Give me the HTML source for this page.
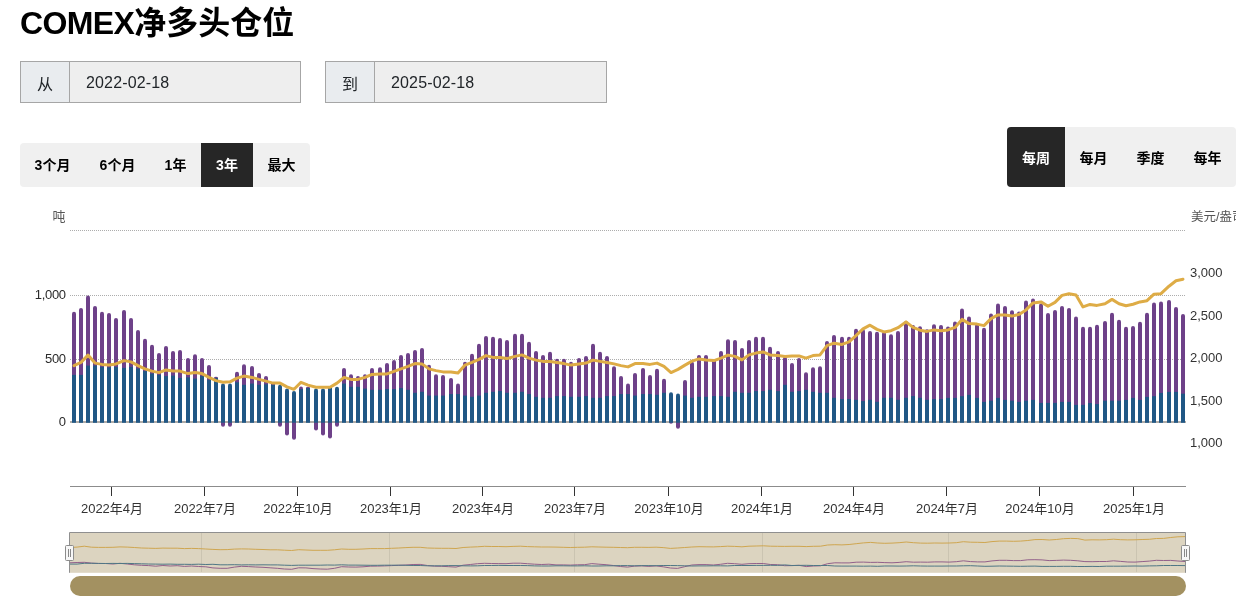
<!DOCTYPE html>
<html lang="zh"><head><meta charset="utf-8"><title>COMEX净多头仓位</title>
<style>
html,body{margin:0;padding:0;background:#fff;}
body{width:1258px;height:611px;position:relative;overflow:hidden;font-family:"Liberation Sans","Noto Sans CJK SC",sans-serif;color:#000;}
h1{position:absolute;left:20px;top:0.6px;margin:0;font-size:32px;line-height:44px;font-weight:bold;white-space:nowrap;letter-spacing:-0.6px}
h1 span{letter-spacing:0}
.inp{position:absolute;top:61px;height:42px;width:281px;box-sizing:border-box;border:1px solid #a6a6a6;background:#eee;display:flex;font-size:16px;color:#212529;letter-spacing:0.15px}
.inp .pre{width:49px;flex:none;background:#e9ecef;border-right:1px solid #a6a6a6;display:flex;align-items:center;justify-content:center;font-size:16px;padding-top:1px;box-sizing:border-box}
.inp .val{padding-left:16px;display:flex;align-items:center;padding-top:1.5px}
.grp{position:absolute;background:#f0f0f0;border-radius:4px;display:flex;overflow:hidden;font-weight:bold;font-size:14px}
.grp div{display:flex;align-items:center;justify-content:center;padding-bottom:2px;box-sizing:border-box}
.g2 div{padding-bottom:0.5px}
.grp .on{background:#262626;color:#fff}
</style></head><body>
<h1>COMEX<span>净多头仓位</span></h1>
<div class="inp" style="left:20px"><div class="pre">从</div><div class="val">2022-02-18</div></div>
<div class="inp" style="left:325px;width:282px"><div class="pre">到</div><div class="val">2025-02-18</div></div>
<div class="grp" style="left:20px;top:143px;height:44px;width:290px">
<div style="width:65px">3个月</div><div style="width:65px">6个月</div><div style="width:51px">1年</div><div class="on" style="width:52px">3年</div><div style="width:57px">最大</div></div>
<div class="grp g2" style="left:1007px;top:127px;height:60px;width:229px">
<div class="on" style="width:58px">每周</div><div style="width:57px">每月</div><div style="width:57px">季度</div><div style="width:57px">每年</div></div>
<svg width="1258" height="611" viewBox="0 0 1258 611" style="position:absolute;left:0;top:0" font-family="'Liberation Sans', 'Noto Sans CJK SC', sans-serif"><line x1="70" x2="1186" y1="230.5" y2="230.5" stroke="#999" stroke-width="1" stroke-dasharray="1 1" opacity="0.8"/><line x1="70" x2="1186" y1="295.5" y2="295.5" stroke="#999" stroke-width="1" stroke-dasharray="1 1" opacity="0.8"/><line x1="70" x2="1186" y1="359.5" y2="359.5" stroke="#999" stroke-width="1" stroke-dasharray="1 1" opacity="0.8"/><rect x="70" y="421" width="1116" height="2" fill="#b0aca8"/><g fill="#6e4189"><path d="M72 375.9V313.8a2 2.0 0 0 1 4 0V375.9z"/><path d="M79 375.9V310.0a2 2.0 0 0 1 4 0V375.9z"/><path d="M86 366.6V297.5a2 2.0 0 0 1 4 0V366.6z"/><path d="M93 366.6V308.0a2 2.0 0 0 1 4 0V366.6z"/><path d="M100 367.9V313.8a2 2.0 0 0 1 4 0V367.9z"/><path d="M107 368.4V315.0a2 2.0 0 0 1 4 0V368.4z"/><path d="M114 367.9V320.0a2 2.0 0 0 1 4 0V367.9z"/><path d="M122 368.9V312.0a2 2.0 0 0 1 4 0V368.9z"/><path d="M129 367.9V320.0a2 2.0 0 0 1 4 0V367.9z"/><path d="M136 369.6V332.0a2 2.0 0 0 1 4 0V369.6z"/><path d="M143 372.1V340.7a2 2.0 0 0 1 4 0V372.1z"/><path d="M150 374.6V346.7a2 2.0 0 0 1 4 0V374.6z"/><path d="M157 375.9V354.9a2 2.0 0 0 1 4 0V375.9z"/><path d="M164 377.1V348.0a2 2.0 0 0 1 4 0V377.1z"/><path d="M171 376.6V352.9a2 2.0 0 0 1 4 0V376.6z"/><path d="M178 378.9V352.0a2 2.0 0 0 1 4 0V378.9z"/><path d="M186 378.4V359.9a2 2.0 0 0 1 4 0V378.4z"/><path d="M193 379.6V356.2a2 2.0 0 0 1 4 0V379.6z"/><path d="M200 377.1V359.9a2 2.0 0 0 1 4 0V377.1z"/><path d="M207 380.9V366.9a2 2.0 0 0 1 4 0V380.9z"/><path d="M214 378.9V377.9a2 1.2 0 0 1 4 0V378.9z"/><path d="M221 421.8V424.8a2 2 0 0 0 4 0V421.8z"/><path d="M228 421.8V424.8a2 2 0 0 0 4 0V421.8z"/><path d="M235 383.3V373.7a2 2.0 0 0 1 4 0V383.3z"/><path d="M242 385.8V366.2a2 2.0 0 0 1 4 0V385.8z"/><path d="M250 384.6V367.9a2 2.0 0 0 1 4 0V384.6z"/><path d="M257 385.8V374.9a2 2.0 0 0 1 4 0V385.8z"/><path d="M264 385.3V377.9a2 2.0 0 0 1 4 0V385.3z"/><path d="M271 385.8V384.1a2 2.0 0 0 1 4 0V385.8z"/><path d="M278 421.8V424.8a2 2 0 0 0 4 0V421.8z"/><path d="M285 421.8V433.6a2 2 0 0 0 4 0V421.8z"/><path d="M292 421.8V437.8a2 2 0 0 0 4 0V421.8z"/><path d="M299 390.1V388.6a2 2.0 0 0 1 4 0V390.1z"/><path d="M306 389.1V388.1a2 1.4 0 0 1 4 0V389.1z"/><path d="M314 421.8V428.6a2 2 0 0 0 4 0V421.8z"/><path d="M321 421.8V433.6a2 2 0 0 0 4 0V421.8z"/><path d="M328 421.8V436.6a2 2 0 0 0 4 0V421.8z"/><path d="M335 421.8V424.8a2 2 0 0 0 4 0V421.8z"/><path d="M342 384.6V369.9a2 2.0 0 0 1 4 0V384.6z"/><path d="M349 387.8V376.2a2 2.0 0 0 1 4 0V387.8z"/><path d="M356 387.8V377.9a2 2.0 0 0 1 4 0V387.8z"/><path d="M363 389.6V376.2a2 2.0 0 0 1 4 0V389.6z"/><path d="M370 390.8V369.9a2 2.0 0 0 1 4 0V390.8z"/><path d="M378 390.8V369.2a2 2.0 0 0 1 4 0V390.8z"/><path d="M385 390.1V364.9a2 2.0 0 0 1 4 0V390.1z"/><path d="M392 390.1V361.9a2 2.0 0 0 1 4 0V390.1z"/><path d="M399 389.1V356.9a2 2.0 0 0 1 4 0V389.1z"/><path d="M406 390.8V354.9a2 2.0 0 0 1 4 0V390.8z"/><path d="M413 393.8V352.0a2 2.0 0 0 1 4 0V393.8z"/><path d="M420 392.8V350.0a2 2.0 0 0 1 4 0V392.8z"/><path d="M427 396.6V366.7a2 2.0 0 0 1 4 0V396.6z"/><path d="M434 396.6V376.2a2 2.0 0 0 1 4 0V396.6z"/><path d="M441 396.6V376.9a2 2.0 0 0 1 4 0V396.6z"/><path d="M449 395.1V379.9a2 2.0 0 0 1 4 0V395.1z"/><path d="M456 395.1V385.6a2 2.0 0 0 1 4 0V395.1z"/><path d="M463 396.6V363.7a2 2.0 0 0 1 4 0V396.6z"/><path d="M470 397.8V355.7a2 2.0 0 0 1 4 0V397.8z"/><path d="M477 396.6V345.7a2 2.0 0 0 1 4 0V396.6z"/><path d="M484 393.8V338.0a2 2.0 0 0 1 4 0V393.8z"/><path d="M491 392.8V338.7a2 2.0 0 0 1 4 0V392.8z"/><path d="M498 392.1V340.0a2 2.0 0 0 1 4 0V392.1z"/><path d="M505 393.8V342.0a2 2.0 0 0 1 4 0V393.8z"/><path d="M513 393.8V335.7a2 2.0 0 0 1 4 0V393.8z"/><path d="M520 392.8V335.7a2 2.0 0 0 1 4 0V392.8z"/><path d="M527 395.1V343.7a2 2.0 0 0 1 4 0V395.1z"/><path d="M534 397.8V352.9a2 2.0 0 0 1 4 0V397.8z"/><path d="M541 398.8V356.9a2 2.0 0 0 1 4 0V398.8z"/><path d="M548 398.8V353.7a2 2.0 0 0 1 4 0V398.8z"/><path d="M555 397.1V360.7a2 2.0 0 0 1 4 0V397.1z"/><path d="M562 397.1V360.7a2 2.0 0 0 1 4 0V397.1z"/><path d="M569 397.8V363.7a2 2.0 0 0 1 4 0V397.8z"/><path d="M577 397.8V359.9a2 2.0 0 0 1 4 0V397.8z"/><path d="M584 397.1V357.9a2 2.0 0 0 1 4 0V397.1z"/><path d="M591 398.8V345.7a2 2.0 0 0 1 4 0V398.8z"/><path d="M598 398.8V353.7a2 2.0 0 0 1 4 0V398.8z"/><path d="M605 397.1V357.9a2 2.0 0 0 1 4 0V397.1z"/><path d="M612 397.1V368.2a2 2.0 0 0 1 4 0V397.1z"/><path d="M619 395.1V377.9a2 2.0 0 0 1 4 0V395.1z"/><path d="M626 395.1V385.6a2 2.0 0 0 1 4 0V395.1z"/><path d="M633 396.6V374.9a2 2.0 0 0 1 4 0V396.6z"/><path d="M641 395.1V369.9a2 2.0 0 0 1 4 0V395.1z"/><path d="M648 395.1V376.9a2 2.0 0 0 1 4 0V395.1z"/><path d="M655 395.8V370.7a2 2.0 0 0 1 4 0V395.8z"/><path d="M662 393.8V380.7a2 2.0 0 0 1 4 0V393.8z"/><path d="M669 421.8V421.8a2 2 0 0 0 4 0V421.8z"/><path d="M676 421.8V426.8a2 2 0 0 0 4 0V421.8z"/><path d="M683 396.6V381.9a2 2.0 0 0 1 4 0V396.6z"/><path d="M690 398.8V363.7a2 2.0 0 0 1 4 0V398.8z"/><path d="M697 397.8V356.9a2 2.0 0 0 1 4 0V397.8z"/><path d="M704 397.8V356.9a2 2.0 0 0 1 4 0V397.8z"/><path d="M712 397.1V361.2a2 2.0 0 0 1 4 0V397.1z"/><path d="M719 397.1V352.9a2 2.0 0 0 1 4 0V397.1z"/><path d="M726 397.8V341.2a2 2.0 0 0 1 4 0V397.8z"/><path d="M733 392.8V342.0a2 2.0 0 0 1 4 0V392.8z"/><path d="M740 393.8V350.0a2 2.0 0 0 1 4 0V393.8z"/><path d="M747 393.8V342.0a2 2.0 0 0 1 4 0V393.8z"/><path d="M754 392.1V338.7a2 2.0 0 0 1 4 0V392.1z"/><path d="M761 392.1V338.7a2 2.0 0 0 1 4 0V392.1z"/><path d="M768 390.8V348.7a2 2.0 0 0 1 4 0V390.8z"/><path d="M776 392.1V352.9a2 2.0 0 0 1 4 0V392.1z"/><path d="M783 385.8V358.7a2 2.0 0 0 1 4 0V385.8z"/><path d="M790 392.8V364.9a2 2.0 0 0 1 4 0V392.8z"/><path d="M797 392.1V359.9a2 2.0 0 0 1 4 0V392.1z"/><path d="M804 390.8V374.2a2 2.0 0 0 1 4 0V390.8z"/><path d="M811 392.8V369.2a2 2.0 0 0 1 4 0V392.8z"/><path d="M818 393.8V368.2a2 2.0 0 0 1 4 0V393.8z"/><path d="M825 393.8V343.0a2 2.0 0 0 1 4 0V393.8z"/><path d="M832 398.8V337.0a2 2.0 0 0 1 4 0V398.8z"/><path d="M840 400.1V338.7a2 2.0 0 0 1 4 0V400.1z"/><path d="M847 400.1V338.7a2 2.0 0 0 1 4 0V400.1z"/><path d="M854 400.8V330.7a2 2.0 0 0 1 4 0V400.8z"/><path d="M861 402.1V331.2a2 2.0 0 0 1 4 0V402.1z"/><path d="M868 400.8V333.0a2 2.0 0 0 1 4 0V400.8z"/><path d="M875 402.8V333.7a2 2.0 0 0 1 4 0V402.8z"/><path d="M882 398.8V333.7a2 2.0 0 0 1 4 0V398.8z"/><path d="M889 398.8V336.2a2 2.0 0 0 1 4 0V398.8z"/><path d="M896 400.8V333.0a2 2.0 0 0 1 4 0V400.8z"/><path d="M904 398.8V323.0a2 2.0 0 0 1 4 0V398.8z"/><path d="M911 397.1V327.0a2 2.0 0 0 1 4 0V397.1z"/><path d="M918 398.8V328.2a2 2.0 0 0 1 4 0V398.8z"/><path d="M925 400.8V331.2a2 2.0 0 0 1 4 0V400.8z"/><path d="M932 400.1V326.2a2 2.0 0 0 1 4 0V400.1z"/><path d="M939 400.1V327.0a2 2.0 0 0 1 4 0V400.1z"/><path d="M946 398.9V328.6a2 2.0 0 0 1 4 0V398.9z"/><path d="M953 398.9V323.6a2 2.0 0 0 1 4 0V398.9z"/><path d="M960 397.2V310.6a2 2.0 0 0 1 4 0V397.2z"/><path d="M967 395.9V318.6a2 2.0 0 0 1 4 0V395.9z"/><path d="M975 398.9V325.6a2 2.0 0 0 1 4 0V398.9z"/><path d="M982 402.9V329.8a2 2.0 0 0 1 4 0V402.9z"/><path d="M989 401.7V315.6a2 2.0 0 0 1 4 0V401.7z"/><path d="M996 398.9V305.6a2 2.0 0 0 1 4 0V398.9z"/><path d="M1003 400.9V308.1a2 2.0 0 0 1 4 0V400.9z"/><path d="M1010 401.7V312.3a2 2.0 0 0 1 4 0V401.7z"/><path d="M1017 402.9V313.6a2 2.0 0 0 1 4 0V402.9z"/><path d="M1024 401.7V302.6a2 2.0 0 0 1 4 0V401.7z"/><path d="M1031 400.9V300.6a2 2.0 0 0 1 4 0V400.9z"/><path d="M1039 403.9V305.6a2 2.0 0 0 1 4 0V403.9z"/><path d="M1046 403.9V315.1a2 2.0 0 0 1 4 0V403.9z"/><path d="M1053 403.9V311.9a2 2.0 0 0 1 4 0V403.9z"/><path d="M1060 402.9V308.1a2 2.0 0 0 1 4 0V402.9z"/><path d="M1067 402.9V309.9a2 2.0 0 0 1 4 0V402.9z"/><path d="M1074 405.9V318.6a2 2.0 0 0 1 4 0V405.9z"/><path d="M1081 405.9V328.8a2 2.0 0 0 1 4 0V405.9z"/><path d="M1088 404.1V328.8a2 2.0 0 0 1 4 0V404.1z"/><path d="M1095 405.1V326.8a2 2.0 0 0 1 4 0V405.1z"/><path d="M1103 401.7V323.1a2 2.0 0 0 1 4 0V401.7z"/><path d="M1110 401.7V314.8a2 2.0 0 0 1 4 0V401.7z"/><path d="M1117 401.7V321.8a2 2.0 0 0 1 4 0V401.7z"/><path d="M1124 400.9V328.8a2 2.0 0 0 1 4 0V400.9z"/><path d="M1131 398.9V328.1a2 2.0 0 0 1 4 0V398.9z"/><path d="M1138 400.9V323.8a2 2.0 0 0 1 4 0V400.9z"/><path d="M1145 397.9V314.8a2 2.0 0 0 1 4 0V397.9z"/><path d="M1152 397.2V304.4a2 2.0 0 0 1 4 0V397.2z"/><path d="M1159 393.9V303.6a2 2.0 0 0 1 4 0V393.9z"/><path d="M1167 392.9V301.9a2 2.0 0 0 1 4 0V392.9z"/><path d="M1174 392.9V308.9a2 2.0 0 0 1 4 0V392.9z"/><path d="M1181 394.7V316.1a2 2.0 0 0 1 4 0V394.7z"/></g><g fill="#205785"><rect x="72" y="374.9" width="4" height="47.9"/><rect x="79" y="374.9" width="4" height="47.9"/><rect x="86" y="365.6" width="4" height="57.2"/><rect x="93" y="365.6" width="4" height="57.2"/><rect x="100" y="366.9" width="4" height="55.9"/><rect x="107" y="367.4" width="4" height="55.4"/><rect x="114" y="366.9" width="4" height="55.9"/><rect x="122" y="367.9" width="4" height="54.9"/><rect x="129" y="366.9" width="4" height="55.9"/><rect x="136" y="368.6" width="4" height="54.2"/><rect x="143" y="371.1" width="4" height="51.7"/><rect x="150" y="373.6" width="4" height="49.2"/><rect x="157" y="374.9" width="4" height="47.9"/><rect x="164" y="376.1" width="4" height="46.7"/><rect x="171" y="375.6" width="4" height="47.2"/><rect x="178" y="377.9" width="4" height="44.9"/><rect x="186" y="377.4" width="4" height="45.4"/><rect x="193" y="378.6" width="4" height="44.2"/><rect x="200" y="376.1" width="4" height="46.7"/><rect x="207" y="379.9" width="4" height="42.9"/><rect x="214" y="377.9" width="4" height="44.9"/><path d="M221 422.8V385.6a2 2 0 0 1 4 0V422.8z"/><path d="M228 422.8V385.6a2 2 0 0 1 4 0V422.8z"/><rect x="235" y="382.3" width="4" height="40.5"/><rect x="242" y="384.8" width="4" height="38.0"/><rect x="250" y="383.6" width="4" height="39.2"/><rect x="257" y="384.8" width="4" height="38.0"/><rect x="264" y="384.3" width="4" height="38.5"/><rect x="271" y="384.8" width="4" height="38.0"/><path d="M278 422.8V386.8a2 2 0 0 1 4 0V422.8z"/><path d="M285 422.8V390.6a2 2 0 0 1 4 0V422.8z"/><path d="M292 422.8V393.1a2 2 0 0 1 4 0V422.8z"/><rect x="299" y="389.1" width="4" height="33.7"/><rect x="306" y="388.1" width="4" height="34.7"/><path d="M314 422.8V390.6a2 2 0 0 1 4 0V422.8z"/><path d="M321 422.8V390.6a2 2 0 0 1 4 0V422.8z"/><path d="M328 422.8V388.1a2 2 0 0 1 4 0V422.8z"/><path d="M335 422.8V388.8a2 2 0 0 1 4 0V422.8z"/><rect x="342" y="383.6" width="4" height="39.2"/><rect x="349" y="386.8" width="4" height="36.0"/><rect x="356" y="386.8" width="4" height="36.0"/><rect x="363" y="388.6" width="4" height="34.2"/><rect x="370" y="389.8" width="4" height="33.0"/><rect x="378" y="389.8" width="4" height="33.0"/><rect x="385" y="389.1" width="4" height="33.7"/><rect x="392" y="389.1" width="4" height="33.7"/><rect x="399" y="388.1" width="4" height="34.7"/><rect x="406" y="389.8" width="4" height="33.0"/><rect x="413" y="392.8" width="4" height="30.0"/><rect x="420" y="391.8" width="4" height="31.0"/><rect x="427" y="395.6" width="4" height="27.2"/><rect x="434" y="395.6" width="4" height="27.2"/><rect x="441" y="395.6" width="4" height="27.2"/><rect x="449" y="394.1" width="4" height="28.7"/><rect x="456" y="394.1" width="4" height="28.7"/><rect x="463" y="395.6" width="4" height="27.2"/><rect x="470" y="396.8" width="4" height="26.0"/><rect x="477" y="395.6" width="4" height="27.2"/><rect x="484" y="392.8" width="4" height="30.0"/><rect x="491" y="391.8" width="4" height="31.0"/><rect x="498" y="391.1" width="4" height="31.7"/><rect x="505" y="392.8" width="4" height="30.0"/><rect x="513" y="392.8" width="4" height="30.0"/><rect x="520" y="391.8" width="4" height="31.0"/><rect x="527" y="394.1" width="4" height="28.7"/><rect x="534" y="396.8" width="4" height="26.0"/><rect x="541" y="397.8" width="4" height="25.0"/><rect x="548" y="397.8" width="4" height="25.0"/><rect x="555" y="396.1" width="4" height="26.7"/><rect x="562" y="396.1" width="4" height="26.7"/><rect x="569" y="396.8" width="4" height="26.0"/><rect x="577" y="396.8" width="4" height="26.0"/><rect x="584" y="396.1" width="4" height="26.7"/><rect x="591" y="397.8" width="4" height="25.0"/><rect x="598" y="397.8" width="4" height="25.0"/><rect x="605" y="396.1" width="4" height="26.7"/><rect x="612" y="396.1" width="4" height="26.7"/><rect x="619" y="394.1" width="4" height="28.7"/><rect x="626" y="394.1" width="4" height="28.7"/><rect x="633" y="395.6" width="4" height="27.2"/><rect x="641" y="394.1" width="4" height="28.7"/><rect x="648" y="394.1" width="4" height="28.7"/><rect x="655" y="394.8" width="4" height="28.0"/><rect x="662" y="392.8" width="4" height="30.0"/><path d="M669 422.8V394.3a2 2 0 0 1 4 0V422.8z"/><path d="M676 422.8V395.6a2 2 0 0 1 4 0V422.8z"/><rect x="683" y="395.6" width="4" height="27.2"/><rect x="690" y="397.8" width="4" height="25.0"/><rect x="697" y="396.8" width="4" height="26.0"/><rect x="704" y="396.8" width="4" height="26.0"/><rect x="712" y="396.1" width="4" height="26.7"/><rect x="719" y="396.1" width="4" height="26.7"/><rect x="726" y="396.8" width="4" height="26.0"/><rect x="733" y="391.8" width="4" height="31.0"/><rect x="740" y="392.8" width="4" height="30.0"/><rect x="747" y="392.8" width="4" height="30.0"/><rect x="754" y="391.1" width="4" height="31.7"/><rect x="761" y="391.1" width="4" height="31.7"/><rect x="768" y="389.8" width="4" height="33.0"/><rect x="776" y="391.1" width="4" height="31.7"/><rect x="783" y="384.8" width="4" height="38.0"/><rect x="790" y="391.8" width="4" height="31.0"/><rect x="797" y="391.1" width="4" height="31.7"/><rect x="804" y="389.8" width="4" height="33.0"/><rect x="811" y="391.8" width="4" height="31.0"/><rect x="818" y="392.8" width="4" height="30.0"/><rect x="825" y="392.8" width="4" height="30.0"/><rect x="832" y="397.8" width="4" height="25.0"/><rect x="840" y="399.1" width="4" height="23.7"/><rect x="847" y="399.1" width="4" height="23.7"/><rect x="854" y="399.8" width="4" height="23.0"/><rect x="861" y="401.1" width="4" height="21.7"/><rect x="868" y="399.8" width="4" height="23.0"/><rect x="875" y="401.8" width="4" height="21.0"/><rect x="882" y="397.8" width="4" height="25.0"/><rect x="889" y="397.8" width="4" height="25.0"/><rect x="896" y="399.8" width="4" height="23.0"/><rect x="904" y="397.8" width="4" height="25.0"/><rect x="911" y="396.1" width="4" height="26.7"/><rect x="918" y="397.8" width="4" height="25.0"/><rect x="925" y="399.8" width="4" height="23.0"/><rect x="932" y="399.1" width="4" height="23.7"/><rect x="939" y="399.1" width="4" height="23.7"/><rect x="946" y="397.9" width="4" height="24.9"/><rect x="953" y="397.9" width="4" height="24.9"/><rect x="960" y="396.2" width="4" height="26.6"/><rect x="967" y="394.9" width="4" height="27.9"/><rect x="975" y="397.9" width="4" height="24.9"/><rect x="982" y="401.9" width="4" height="20.9"/><rect x="989" y="400.7" width="4" height="22.1"/><rect x="996" y="397.9" width="4" height="24.9"/><rect x="1003" y="399.9" width="4" height="22.9"/><rect x="1010" y="400.7" width="4" height="22.1"/><rect x="1017" y="401.9" width="4" height="20.9"/><rect x="1024" y="400.7" width="4" height="22.1"/><rect x="1031" y="399.9" width="4" height="22.9"/><rect x="1039" y="402.9" width="4" height="19.9"/><rect x="1046" y="402.9" width="4" height="19.9"/><rect x="1053" y="402.9" width="4" height="19.9"/><rect x="1060" y="401.9" width="4" height="20.9"/><rect x="1067" y="401.9" width="4" height="20.9"/><rect x="1074" y="404.9" width="4" height="17.9"/><rect x="1081" y="404.9" width="4" height="17.9"/><rect x="1088" y="403.1" width="4" height="19.7"/><rect x="1095" y="404.1" width="4" height="18.7"/><rect x="1103" y="400.7" width="4" height="22.1"/><rect x="1110" y="400.7" width="4" height="22.1"/><rect x="1117" y="400.7" width="4" height="22.1"/><rect x="1124" y="399.9" width="4" height="22.9"/><rect x="1131" y="397.9" width="4" height="24.9"/><rect x="1138" y="399.9" width="4" height="22.9"/><rect x="1145" y="396.9" width="4" height="25.9"/><rect x="1152" y="396.2" width="4" height="26.6"/><rect x="1159" y="392.9" width="4" height="29.9"/><rect x="1167" y="391.9" width="4" height="30.9"/><rect x="1174" y="391.9" width="4" height="30.9"/><rect x="1181" y="393.7" width="4" height="29.1"/></g><polyline points="74,365.6 81,362.4 88,355.1 95,363.1 102,364.4 109,364.9 116,363.9 124,360.6 131,361.9 138,365.6 145,368.9 152,371.1 159,372.6 166,369.9 173,371.1 180,371.1 188,373.6 195,372.4 202,373.6 209,377.4 216,380.6 223,382.3 230,381.8 237,378.1 244,376.1 252,377.4 259,379.4 266,381.1 273,383.1 280,383.1 287,386.8 294,389.3 301,382.3 308,385.1 316,387.3 323,387.3 330,387.3 337,383.1 344,377.4 351,379.4 358,379.4 365,377.4 372,374.4 380,373.9 387,373.9 394,371.4 401,368.9 408,366.4 415,363.6 422,363.9 429,368.9 436,370.6 443,371.9 451,371.9 458,373.1 465,365.1 472,362.4 479,359.4 486,355.6 493,357.4 500,357.4 507,358.6 515,356.4 522,354.9 529,358.1 536,360.1 543,361.4 550,361.4 557,362.4 564,363.6 571,365.1 579,363.9 586,363.1 593,360.1 600,361.4 607,362.6 614,363.9 621,365.6 628,366.9 635,363.6 643,363.6 650,364.4 657,363.1 664,366.4 671,372.6 678,369.4 685,365.1 692,361.1 699,358.9 706,359.9 714,360.6 721,358.1 728,355.1 735,356.4 742,359.9 749,354.9 756,353.1 763,351.9 770,354.9 778,355.6 785,356.4 792,355.9 799,355.9 806,358.1 813,355.6 820,354.9 827,345.7 834,343.2 842,344.4 849,341.9 856,335.7 863,328.9 870,325.2 877,329.4 884,331.9 891,330.7 898,327.7 906,321.9 913,327.4 920,330.2 927,331.4 934,329.9 941,330.7 948,329.9 955,327.4 962,319.4 969,323.6 977,324.1 984,325.6 991,318.6 998,314.9 1005,314.9 1012,316.1 1019,314.4 1026,309.9 1033,302.9 1041,301.9 1048,306.2 1055,302.4 1062,295.4 1069,293.7 1076,294.9 1083,306.9 1090,304.4 1097,305.4 1105,303.7 1112,299.4 1119,303.7 1126,305.7 1133,304.2 1140,301.9 1147,300.7 1154,294.2 1161,293.7 1169,286.2 1176,280.7 1183,279.2" fill="none" stroke="#deac46" stroke-width="3" stroke-linejoin="round" stroke-linecap="round"/><line x1="70" x2="1186" y1="486.5" y2="486.5" stroke="#8c8c8c" stroke-width="1"/><line x1="111.5" x2="111.5" y1="487" y2="496" stroke="#333" stroke-width="1"/><text x="112" y="513" font-size="13" fill="#333" text-anchor="middle">2022年4月</text><line x1="204.5" x2="204.5" y1="487" y2="496" stroke="#333" stroke-width="1"/><text x="205" y="513" font-size="13" fill="#333" text-anchor="middle">2022年7月</text><line x1="297.5" x2="297.5" y1="487" y2="496" stroke="#333" stroke-width="1"/><text x="298" y="513" font-size="13" fill="#333" text-anchor="middle">2022年10月</text><line x1="390.5" x2="390.5" y1="487" y2="496" stroke="#333" stroke-width="1"/><text x="391" y="513" font-size="13" fill="#333" text-anchor="middle">2023年1月</text><line x1="482.5" x2="482.5" y1="487" y2="496" stroke="#333" stroke-width="1"/><text x="483" y="513" font-size="13" fill="#333" text-anchor="middle">2023年4月</text><line x1="574.5" x2="574.5" y1="487" y2="496" stroke="#333" stroke-width="1"/><text x="575" y="513" font-size="13" fill="#333" text-anchor="middle">2023年7月</text><line x1="668.5" x2="668.5" y1="487" y2="496" stroke="#333" stroke-width="1"/><text x="669" y="513" font-size="13" fill="#333" text-anchor="middle">2023年10月</text><line x1="761.5" x2="761.5" y1="487" y2="496" stroke="#333" stroke-width="1"/><text x="762" y="513" font-size="13" fill="#333" text-anchor="middle">2024年1月</text><line x1="853.5" x2="853.5" y1="487" y2="496" stroke="#333" stroke-width="1"/><text x="854" y="513" font-size="13" fill="#333" text-anchor="middle">2024年4月</text><line x1="946.5" x2="946.5" y1="487" y2="496" stroke="#333" stroke-width="1"/><text x="947" y="513" font-size="13" fill="#333" text-anchor="middle">2024年7月</text><line x1="1039.5" x2="1039.5" y1="487" y2="496" stroke="#333" stroke-width="1"/><text x="1040" y="513" font-size="13" fill="#333" text-anchor="middle">2024年10月</text><line x1="1133.5" x2="1133.5" y1="487" y2="496" stroke="#333" stroke-width="1"/><text x="1134" y="513" font-size="13" fill="#333" text-anchor="middle">2025年1月</text><text x="65.8" y="298.7" font-size="13" fill="#2b2b2b" text-anchor="end" letter-spacing="-0.3">1,000</text><text x="65.8" y="362.7" font-size="13" fill="#2b2b2b" text-anchor="end" letter-spacing="-0.3">500</text><text x="65.8" y="425.7" font-size="13" fill="#2b2b2b" text-anchor="end" letter-spacing="-0.3">0</text><text x="65.5" y="220.8" font-size="13" fill="#555" text-anchor="end">吨</text><text x="1190" y="277.4" font-size="13" fill="#333">3,000</text><text x="1190" y="319.9" font-size="13" fill="#333">2,500</text><text x="1190" y="362.4" font-size="13" fill="#333">2,000</text><text x="1190" y="404.9" font-size="13" fill="#333">1,500</text><text x="1190" y="447.4" font-size="13" fill="#333">1,000</text><svg x="1186" y="205" width="50" height="20"><text x="5" y="15.5" font-size="12.5" fill="#555">美元/盎司</text></svg><rect x="70" y="533" width="1115.5" height="39.8" fill="#dcd4c0"/><path d="M69.5 572.8V532.5H1185.5V572.8" fill="none" stroke="#8f8f8f" stroke-width="1"/><line x1="201.5" x2="201.5" y1="533" y2="572" stroke="#cbc4b1" stroke-width="1"/><line x1="389.5" x2="389.5" y1="533" y2="572" stroke="#cbc4b1" stroke-width="1"/><line x1="574.5" x2="574.5" y1="533" y2="572" stroke="#cbc4b1" stroke-width="1"/><line x1="762.5" x2="762.5" y1="533" y2="572" stroke="#cbc4b1" stroke-width="1"/><line x1="948.5" x2="948.5" y1="533" y2="572" stroke="#cbc4b1" stroke-width="1"/><line x1="1136.5" x2="1136.5" y1="533" y2="572" stroke="#cbc4b1" stroke-width="1"/><polyline points="70.0,547.5 77.1,547.1 84.3,546.2 91.4,547.2 98.6,547.4 105.7,547.4 112.9,547.3 120.0,546.9 127.2,547.1 134.3,547.5 141.5,548.0 148.6,548.2 155.8,548.4 162.9,548.1 170.1,548.2 177.2,548.2 184.4,548.6 191.5,548.4 198.7,548.6 205.8,549.0 212.9,549.4 220.1,549.7 227.2,549.6 234.4,549.1 241.5,548.9 248.7,549.0 255.8,549.3 263.0,549.5 270.1,549.8 277.3,549.8 284.4,550.2 291.6,550.5 298.7,549.7 305.9,550.0 313.0,550.3 320.2,550.3 327.3,550.3 334.5,549.8 341.6,549.0 348.8,549.3 355.9,549.3 363.0,549.0 370.2,548.6 377.3,548.6 384.5,548.6 391.6,548.3 398.8,548.0 405.9,547.6 413.1,547.3 420.2,547.3 427.4,548.0 434.5,548.2 441.7,548.3 448.8,548.3 456.0,548.5 463.1,547.5 470.3,547.1 477.4,546.8 484.6,546.3 491.7,546.5 498.8,546.5 506.0,546.7 513.1,546.4 520.3,546.2 527.4,546.6 534.6,546.8 541.7,547.0 548.9,547.0 556.0,547.1 563.2,547.3 570.3,547.5 577.5,547.3 584.6,547.2 591.8,546.8 598.9,547.0 606.1,547.2 613.2,547.3 620.4,547.5 627.5,547.7 634.6,547.3 641.8,547.3 648.9,547.4 656.1,547.2 663.2,547.6 670.4,548.4 677.5,548.0 684.7,547.5 691.8,547.0 699.0,546.7 706.1,546.8 713.3,546.9 720.4,546.6 727.6,546.2 734.7,546.4 741.9,546.8 749.0,546.2 756.2,546.0 763.3,545.8 770.4,546.2 777.6,546.3 784.7,546.4 791.9,546.3 799.0,546.3 806.2,546.6 813.3,546.3 820.5,546.2 827.6,545.0 834.8,544.7 841.9,544.9 849.1,544.5 856.2,543.7 863.4,542.9 870.5,542.4 877.7,543.0 884.8,543.3 892.0,543.1 899.1,542.7 906.2,542.0 913.4,542.7 920.5,543.1 927.7,543.2 934.8,543.0 942.0,543.1 949.1,543.0 956.3,542.7 963.4,541.7 970.6,542.2 977.7,542.3 984.9,542.5 992.0,541.6 999.2,541.1 1006.3,541.1 1013.5,541.3 1020.6,541.1 1027.8,540.5 1034.9,539.6 1042.1,539.5 1049.2,540.0 1056.3,539.5 1063.5,538.7 1070.6,538.4 1077.8,538.6 1084.9,540.1 1092.1,539.8 1099.2,539.9 1106.4,539.7 1113.5,539.2 1120.7,539.7 1127.8,539.9 1135.0,539.8 1142.1,539.5 1149.3,539.3 1156.4,538.5 1163.6,538.4 1170.7,537.5 1177.9,536.8 1185.0,536.6" fill="none" stroke="#cfa650" stroke-width="1"/><polyline points="70.0,562.8 77.1,562.5 84.3,562.3 91.4,563.1 98.6,563.5 105.7,563.5 112.9,564.0 120.0,563.3 127.2,564.0 134.3,564.8 141.5,565.3 148.6,565.6 155.8,566.2 162.9,565.5 170.1,566.0 177.2,565.7 184.4,566.4 191.5,566.0 198.7,566.5 205.8,566.8 212.9,567.9 220.1,568.3 227.2,568.3 234.4,567.1 241.5,566.3 248.7,566.6 255.8,567.0 263.0,567.3 270.1,567.8 277.3,568.3 284.4,569.0 291.6,569.3 298.7,567.8 305.9,567.9 313.0,568.6 320.2,569.0 327.3,569.2 334.5,568.3 341.6,566.7 348.8,567.0 355.9,567.1 363.0,566.8 370.2,566.2 377.3,566.1 384.5,565.9 391.6,565.6 398.8,565.3 405.9,565.0 413.1,564.5 420.2,564.4 427.4,565.5 434.5,566.2 441.7,566.3 448.8,566.7 456.0,567.1 463.1,565.2 470.3,564.5 477.4,563.7 484.6,563.3 491.7,563.5 498.8,563.6 506.0,563.7 513.1,563.2 520.3,563.2 527.4,563.7 534.6,564.2 541.7,564.5 548.9,564.2 556.0,564.9 563.2,564.9 570.3,565.1 577.5,564.8 584.6,564.7 591.8,563.6 598.9,564.2 606.1,564.7 613.2,565.5 620.4,566.5 627.5,567.1 634.6,566.1 641.8,565.9 648.9,566.4 656.1,565.9 663.2,566.8 670.4,568.0 677.5,568.4 684.7,566.7 691.8,565.0 699.0,564.6 706.1,564.6 713.3,565.0 720.4,564.3 727.6,563.3 734.7,563.7 741.9,564.3 749.0,563.7 756.2,563.5 763.3,563.5 770.4,564.5 777.6,564.7 784.7,565.7 791.9,565.6 799.0,565.3 806.2,566.6 813.3,566.0 820.5,565.8 827.6,563.7 834.8,562.8 841.9,562.9 849.1,562.9 856.2,562.2 863.4,562.1 870.5,562.4 877.7,562.3 884.8,562.6 892.0,562.8 899.1,562.4 906.2,561.7 913.4,562.2 920.5,562.1 927.7,562.2 934.8,561.9 942.0,561.9 949.1,562.1 956.3,561.7 963.4,560.8 970.6,561.6 977.7,561.9 984.9,561.9 992.0,560.9 999.2,560.3 1006.3,560.3 1013.5,560.6 1020.6,560.6 1027.8,559.8 1034.9,559.7 1042.1,559.9 1049.2,560.6 1056.3,560.4 1063.5,560.1 1070.6,560.3 1077.8,560.8 1084.9,561.6 1092.1,561.7 1099.2,561.5 1106.4,561.5 1113.5,560.8 1120.7,561.4 1127.8,562.0 1135.0,562.1 1142.1,561.6 1149.3,561.1 1156.4,560.3 1163.6,560.5 1170.7,560.4 1177.9,561.0 1185.0,561.5" fill="none" stroke="#92608a" stroke-width="1"/><polyline points="70.0,564.1 77.1,564.1 84.3,563.3 91.4,563.3 98.6,563.4 105.7,563.5 112.9,563.4 120.0,563.5 127.2,563.4 134.3,563.6 141.5,563.8 148.6,564.0 155.8,564.1 162.9,564.2 170.1,564.1 177.2,564.3 184.4,564.3 191.5,564.4 198.7,564.2 205.8,564.5 212.9,564.3 220.1,564.8 227.2,564.8 234.4,564.7 241.5,564.9 248.7,564.8 255.8,564.9 263.0,564.8 270.1,564.9 277.3,564.9 284.4,565.2 291.6,565.4 298.7,565.2 305.9,565.2 313.0,565.2 320.2,565.2 327.3,565.0 334.5,565.1 341.6,564.8 348.8,565.1 355.9,565.1 363.0,565.2 370.2,565.3 377.3,565.3 384.5,565.2 391.6,565.2 398.8,565.2 405.9,565.3 413.1,565.5 420.2,565.5 427.4,565.8 434.5,565.8 441.7,565.8 448.8,565.6 456.0,565.6 463.1,565.8 470.3,565.9 477.4,565.8 484.6,565.5 491.7,565.5 498.8,565.4 506.0,565.5 513.1,565.5 520.3,565.5 527.4,565.6 534.6,565.9 541.7,566.0 548.9,566.0 556.0,565.8 563.2,565.8 570.3,565.9 577.5,565.9 584.6,565.8 591.8,566.0 598.9,566.0 606.1,565.8 613.2,565.8 620.4,565.6 627.5,565.6 634.6,565.8 641.8,565.6 648.9,565.6 656.1,565.7 663.2,565.5 670.4,565.5 677.5,565.6 684.7,565.8 691.8,566.0 699.0,565.9 706.1,565.9 713.3,565.8 720.4,565.8 727.6,565.9 734.7,565.5 741.9,565.5 749.0,565.5 756.2,565.4 763.3,565.4 770.4,565.3 777.6,565.4 784.7,564.9 791.9,565.5 799.0,565.4 806.2,565.3 813.3,565.5 820.5,565.5 827.6,565.5 834.8,566.0 841.9,566.1 849.1,566.1 856.2,566.1 863.4,566.2 870.5,566.1 877.7,566.3 884.8,566.0 892.0,566.0 899.1,566.1 906.2,566.0 913.4,565.8 920.5,566.0 927.7,566.1 934.8,566.1 942.0,566.1 949.1,566.0 956.3,566.0 963.4,565.8 970.6,565.7 977.7,566.0 984.9,566.3 992.0,566.2 999.2,566.0 1006.3,566.1 1013.5,566.2 1020.6,566.3 1027.8,566.2 1034.9,566.1 1042.1,566.4 1049.2,566.4 1056.3,566.4 1063.5,566.3 1070.6,566.3 1077.8,566.5 1084.9,566.5 1092.1,566.4 1099.2,566.5 1106.4,566.2 1113.5,566.2 1120.7,566.2 1127.8,566.1 1135.0,566.0 1142.1,566.1 1149.3,565.9 1156.4,565.8 1163.6,565.5 1170.7,565.5 1177.9,565.5 1185.0,565.6" fill="none" stroke="#4f7785" stroke-width="1"/><rect x="65.5" y="545.5" width="8" height="15" rx="1" fill="#f7f7f7" stroke="#8c8c8c" stroke-width="1"/><line x1="68.5" x2="68.5" y1="549" y2="557" stroke="#888" stroke-width="1"/><line x1="70.5" x2="70.5" y1="549" y2="557" stroke="#888" stroke-width="1"/><rect x="1181.5" y="545.5" width="8" height="15" rx="1" fill="#f7f7f7" stroke="#8c8c8c" stroke-width="1"/><line x1="1184.5" x2="1184.5" y1="549" y2="557" stroke="#888" stroke-width="1"/><line x1="1186.5" x2="1186.5" y1="549" y2="557" stroke="#888" stroke-width="1"/><rect x="70" y="576" width="1116" height="20" rx="10" fill="#a39161"/></svg>
</body></html>
